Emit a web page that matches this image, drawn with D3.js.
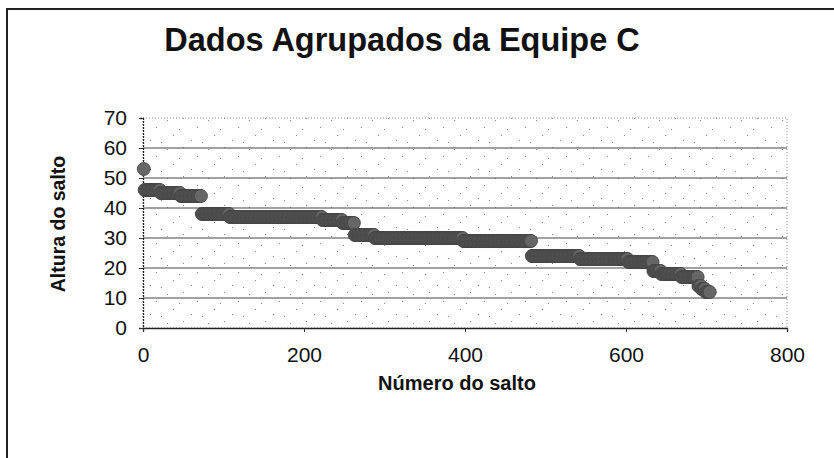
<!DOCTYPE html>
<html>
<head>
<meta charset="utf-8">
<script src="https://cdn.jsdelivr.net/npm/d3@7"></script>
<style>
  body { margin: 0; background: #fff; }
  text { font-family: "Liberation Sans", Arial, sans-serif; fill: #111; }
</style>
</head>
<body>
<div id="chart"></div>
<script>
// grouped jump heights, sorted descending; each height repeats "counts" times
var heights = [53, 46, 45, 44, 38, 37, 36, 35, 31, 30, 29, 24, 23, 22, 19, 18, 17, 14, 13, 12];
var counts  = [1, 20, 25, 26, 35, 115, 25, 15, 25, 110, 85, 60, 60, 31, 10, 25, 21, 4, 5, 6];
var xTicks = [0, 200, 400, 600, 800];
var yTicks = [0, 10, 20, 30, 40, 50, 60, 70];

var W = 834, H = 458;

/* expand the runs into one point per jump */
var points = [];
heights.forEach(function (h, i) {
  for (var k = 0; k < counts[i]; k += 1) {
    points.push({n: points.length + 1, h: h});
  }
});

var x = d3.scaleLinear().domain([0, 800]).range([143, 787]);
var y = d3.scaleLinear().domain([0, 70]).range([328, 118]);

var svg = d3.select("#chart").append("svg")
    .attr("width", W)
    .attr("height", H);

/* sparse stipple for the plot area, like the scanned grey fill */
var defs = svg.append("defs");
var pat = defs.append("pattern")
    .attr("id", "stipple")
    .attr("patternUnits", "userSpaceOnUse")
    .attr("width", 41)
    .attr("height", 29);
[[3, 4], [19, 2], [33, 11], [9, 19], [27, 24], [38, 26], [15, 13]].forEach(function (p) {
  pat.append("rect")
      .attr("x", p[0]).attr("y", p[1])
      .attr("width", 1).attr("height", 1)
      .attr("fill", "#8a8a8a");
});

/* outer chart border */
svg.append("rect")
    .attr("x", 7).attr("y", 9)
    .attr("width", 900).attr("height", 600)
    .attr("fill", "none")
    .attr("stroke", "#222")
    .attr("stroke-width", 2);

/* plot area */
svg.append("rect")
    .attr("x", x(0)).attr("y", y(70))
    .attr("width", x(800) - x(0)).attr("height", y(0) - y(70))
    .attr("fill", "url(#stipple)")
    .attr("stroke", "#8a8a8a")
    .attr("stroke-dasharray", "1,2");

/* gridlines */
svg.append("g")
    .selectAll("line")
    .data(yTicks.filter(function (d) { return d > 0 && d < 70; }))
    .enter()
    .append("line")
    .attr("x1", x(0)).attr("x2", x(800))
    .attr("y1", function (d) { return y(d); })
    .attr("y2", function (d) { return y(d); })
    .attr("stroke", "#444")
    .attr("stroke-width", 1.2);

/* axes */
var yAxis = svg.append("g")
    .attr("transform", "translate(" + x(0) + ",0)")
    .call(d3.axisLeft(y).tickValues(yTicks).tickSize(4).tickPadding(12));
var xAxis = svg.append("g")
    .attr("transform", "translate(0," + y(0) + ")")
    .call(d3.axisBottom(x).tickValues(xTicks).tickSize(4).tickPadding(15));
[yAxis, xAxis].forEach(function (g) {
  g.select(".domain").attr("stroke", "#222").attr("stroke-width", 1.3);
  g.selectAll(".tick line").attr("stroke", "#333");
  g.selectAll("text")
      .attr("font-size", 21)
      .attr("font-family", "\"Liberation Sans\", Arial, sans-serif")
      .attr("fill", "#111");
});
yAxis.select(".domain").attr("stroke-dasharray", "2,1");

/* points */
svg.append("g")
    .selectAll("circle")
    .data(points)
    .enter()
    .append("circle")
    .attr("cx", function (d) { return x(d.n); })
    .attr("cy", function (d) { return y(d.h); })
    .attr("r", 6.5)
    .attr("fill", "#666")
    .attr("stroke", "#444")
    .attr("stroke-width", 0.8);

/* title and axis titles */
svg.append("text")
    .attr("x", 402).attr("y", 51)
    .attr("text-anchor", "middle")
    .attr("font-size", 32.5)
    .attr("font-weight", "bold")
    .text("Dados Agrupados da Equipe C");

svg.append("text")
    .attr("transform", "translate(65,224) rotate(-90)")
    .attr("text-anchor", "middle")
    .attr("font-size", 19.5)
    .attr("font-weight", "bold")
    .text("Altura do salto");

svg.append("text")
    .attr("x", 457).attr("y", 390)
    .attr("text-anchor", "middle")
    .attr("font-size", 20)
    .attr("font-weight", "bold")
    .text("Número do salto");
</script>
</body>
</html>
